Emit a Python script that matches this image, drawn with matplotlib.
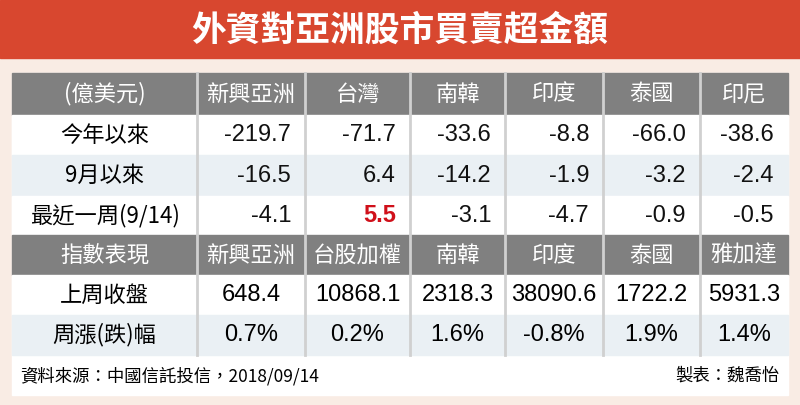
import matplotlib
matplotlib.use("Agg")
import matplotlib.pyplot as plt
from matplotlib.patches import Rectangle

plt.rcParams['font.family'] = ['Noto Sans CJK TC', 'DejaVu Sans']

TITLE = "外資對亞洲股市買賣超金額"
UNIT = "(億美元)"
markets = ["新興亞洲", "台灣", "南韓", "印度", "泰國", "印尼"]
flow_rows = ["今年以來", "9月以來", "最近一周(9/14)"]
flow_vals = [
    [-219.7, -71.7, -33.6, -8.8, -66.0, -38.6],
    [-16.5, 6.4, -14.2, -1.9, -3.2, -2.4],
    [-4.1, 5.5, -3.1, -4.7, -0.9, -0.5],
]
INDEX_HEAD = "指數表現"
indices = ["新興亞洲", "台股加權", "南韓", "印度", "泰國", "雅加達"]
close_label = "上周收盤"
close_vals = [648.4, 10868.1, 2318.3, 38090.6, 1722.2, 5931.3]
chg_label = "周漲(跌)幅"
chg_vals = [0.7, 0.2, 1.6, -0.8, 1.9, 1.4]
SOURCE = "資料來源：中國信託投信，2018/09/14"
MAKER = "製表：魏喬怡"

W, H = 800, 405
fig = plt.figure(figsize=(8, 4.05), dpi=100)
ax = fig.add_axes([0, 0, 1, 1])
ax.set_xlim(0, W)
ax.set_ylim(H, 0)
ax.axis("off")

ax.add_patch(Rectangle((0, 0), W, H, color="#f9ece4"))
ax.add_patch(Rectangle((0, 0), W, 58, color="#d8472f"))
ax.text(W / 2, 30, TITLE, color="white", fontsize=25, fontweight="bold",
        ha="center", va="center")

x0, x1 = 12, 788
ax.add_patch(Rectangle((x0, 73), x1 - x0, 322, color="white"))
cols = [12, 197, 305, 410, 505, 603, 700, 788]
rows = [73, 115, 155, 196, 235, 275, 315, 355]
kinds = ["head", "white", "blue", "white", "head", "white", "blue"]
colors = {"head": "#808080", "white": "white", "blue": "#eaf0f4"}
for i, k in enumerate(kinds):
    ax.add_patch(Rectangle((x0, rows[i]), x1 - x0, rows[i + 1] - rows[i],
                           color=colors[k]))
for c in cols[1:-1]:
    ax.plot([c, c], [73, 355], color="#d0d0d0", lw=2)

def ccol(j):
    return (cols[j] + cols[j + 1]) / 2

def rrow(i):
    return (rows[i] + rows[i + 1]) / 2

fs = 16
num = ["Liberation Sans", "DejaVu Sans"]
ax.text(ccol(0), rrow(0), UNIT, color="white", fontsize=fs, ha="center", va="center")
for j, m in enumerate(markets):
    ax.text(ccol(j + 1), rrow(0), m, color="white", fontsize=fs, ha="center", va="center")
for i, (lab, vals) in enumerate(zip(flow_rows, flow_vals)):
    ax.text(ccol(0), rrow(i + 1), lab, fontsize=fs, ha="center", va="center",
            fontweight="medium")
    for j, v in enumerate(vals):
        red = (i == 2 and j == 1)
        ax.text(cols[j + 2] - 14, rrow(i + 1), f"{v:.1f}", fontsize=fs + 1,
                ha="right", va="center", color="#d0101a" if red else "#111111",
                fontweight="bold" if red else "normal", family=num)
ax.text(ccol(0), rrow(4), INDEX_HEAD, color="white", fontsize=fs, ha="center", va="center")
for j, m in enumerate(indices):
    ax.text(ccol(j + 1), rrow(4), m, color="white", fontsize=fs, ha="center", va="center")
ax.text(ccol(0), rrow(5), close_label, fontsize=fs, ha="center", va="center",
        fontweight="medium")
ax.text(ccol(0), rrow(6), chg_label, fontsize=fs, ha="center", va="center",
        fontweight="medium")
for j, (c, g) in enumerate(zip(close_vals, chg_vals)):
    ax.text(ccol(j + 1), rrow(5), f"{c:.1f}", fontsize=fs + 1, ha="center", va="center",
            family=num)
    ax.text(ccol(j + 1), rrow(6), f"{g:.1f}%", fontsize=fs + 1, ha="center", va="center",
            family=num)

ax.text(20, 376, SOURCE, fontsize=12.5, ha="left", va="center")
ax.text(780, 376, MAKER, fontsize=12.5, ha="right", va="center")

fig.savefig("out.png", dpi=100)
